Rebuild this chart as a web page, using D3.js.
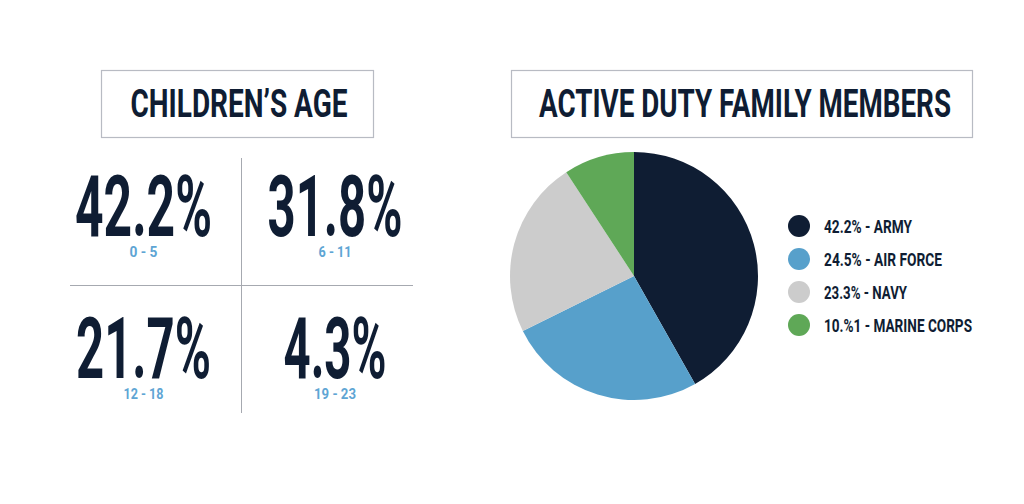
<!DOCTYPE html>
<html>
<head>
<meta charset="utf-8">
<script src="https://cdn.jsdelivr.net/npm/d3@7"></script>
<style>
  html, body { margin: 0; padding: 0; background: #ffffff; }
  svg { display: block; }
  text { font-family: "Roboto", "DejaVu Sans Condensed", sans-serif; font-weight: 700; }
</style>
</head>
<body>
<svg id="chart" width="1024" height="504"></svg>
<script>
// ---- data ----
const ageGroups = ["0 - 5", "6 - 11", "12 - 18", "19 - 23"];
const agePercents = [42.2, 31.8, 21.7, 4.3];

const branches = ["ARMY", "AIR FORCE", "NAVY", "MARINE CORPS"];
const branchLabels = ["42.2%", "24.5%", "23.3%", "10.%1"];
// slice sizes as drawn in the picture
const branchShares = [41.8, 25.9, 23.1, 9.2];

const titles = ["CHILDREN\u2019S AGE", "ACTIVE DUTY FAMILY MEMBERS"];

// ---- styles ----
const navy = "#0f1d33";
const colors = ["#0f1d33", "#57a0cb", "#cccccc", "#5fa857"];
const subBlue = "#5ea5d4";

const svg = d3.select("#chart");

// ---- title boxes ----
const boxes = [
  {x: 101, y: 70, w: 272, h: 67, tx: 239, tw: 217},
  {x: 511, y: 70, w: 461, h: 67, tx: 745, tw: 412}
];
boxes.forEach((b, i) => {
  svg.append("rect").attr("x", b.x + 0.5).attr("y", b.y + 0.5)
    .attr("width", b.w).attr("height", b.h)
    .attr("fill", "none").attr("stroke", "#b8bbc3").attr("stroke-width", 1.2);
  svg.append("text").attr("x", b.tx).attr("y", 116.5)
    .attr("text-anchor", "middle").attr("font-size", 39).attr("fill", navy)
    .attr("textLength", b.tw).attr("lengthAdjust", "spacingAndGlyphs")
    .text(titles[i]);
});

// ---- children's age grid ----
const colX = d3.scaleOrdinal().domain([0, 1]).range([143.5, 335]);
const rowY = d3.scaleOrdinal().domain([0, 1]).range([236, 378]);
const numW = [137, 135, 135, 103];
const subW = [28, 33, 40, 42];
const fmt = d3.format(".1f");

svg.append("line").attr("x1", 241.5).attr("x2", 241.5).attr("y1", 158).attr("y2", 413)
  .attr("stroke", "#a6a9b0").attr("stroke-width", 1);
svg.append("line").attr("x1", 70).attr("x2", 413).attr("y1", 285.5).attr("y2", 285.5)
  .attr("stroke", "#a6a9b0").attr("stroke-width", 1);

const cells = svg.selectAll("g.cell").data(agePercents).join("g").attr("class", "cell")
  .attr("transform", (d, i) => `translate(${colX(i % 2)},${rowY(Math.floor(i / 2))})`);
cells.append("text").attr("text-anchor", "middle").attr("font-size", 85).attr("fill", navy)
  .attr("textLength", (d, i) => numW[i]).attr("lengthAdjust", "spacingAndGlyphs")
  .text(d => fmt(d) + "%");
cells.append("text").attr("y", 20.5).attr("text-anchor", "middle").attr("font-size", 14)
  .attr("font-weight", 500).attr("fill", subBlue)
  .attr("textLength", (d, i) => subW[i]).attr("lengthAdjust", "spacingAndGlyphs")
  .text((d, i) => ageGroups[i]);

// ---- pie ----
const pie = d3.pie().sort(null).value(d => d);
const arc = d3.arc().innerRadius(0).outerRadius(124);
const pg = svg.append("g").attr("transform", "translate(634,276)");
pg.selectAll("path").data(pie(branchShares)).join("path")
  .attr("d", arc).attr("fill", (d, i) => colors[i]);

// ---- legend ----
const legY = d3.scalePoint().domain(branches).range([226, 325]);
const legW = [88, 118, 83, 148];
const lg = svg.selectAll("g.leg").data(branches).join("g").attr("class", "leg")
  .attr("transform", d => `translate(799,${legY(d)})`);
lg.append("circle").attr("r", 11).attr("fill", (d, i) => colors[i]);
lg.append("text").attr("x", 25).attr("y", 6.5).attr("font-size", 18).attr("font-weight", 500)
  .attr("fill", navy)
  .attr("textLength", (d, i) => legW[i]).attr("lengthAdjust", "spacingAndGlyphs")
  .text((d, i) => branchLabels[i] + " - " + d);
</script>
</body>
</html>
